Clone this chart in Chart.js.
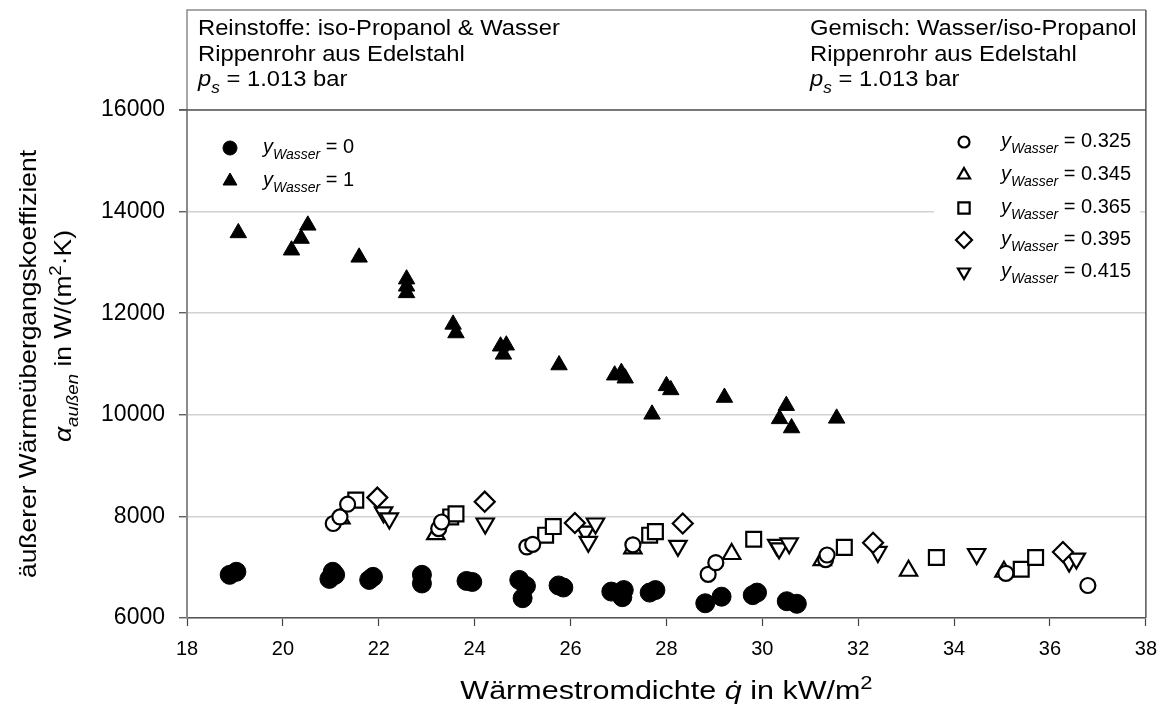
<!DOCTYPE html>
<html>
<head>
<meta charset="utf-8">
<script src="https://cdn.jsdelivr.net/npm/chart.js@4.4.1/dist/chart.umd.min.js"></script>
<style>
  html, body { margin: 0; padding: 0; background: #fff; }
  #wrap { width: 1168px; height: 704px; position: relative; }
</style>
</head>
<body>
<div id="wrap"><canvas id="c" width="1168" height="704"></canvas></div>
<script>
const FONT = '"Liberation Sans", Arial, Helvetica, sans-serif';

// Axis ticks
const xTickValues = [18, 20, 22, 24, 26, 28, 30, 32, 34, 36, 38];
const yTickValues = [6000, 8000, 10000, 12000, 14000, 16000];

// Pure substances: iso-propanol (y = 0) and water (y = 1)
const qW0 = [18.89, 19.03, 20.97, 21.04, 21.09, 21.80, 21.88, 22.90, 22.90, 23.83, 23.95, 24.93, 25.07, 25.00,
             25.75, 25.85, 26.85, 27.11, 27.08, 27.65, 27.77, 28.81, 29.15, 29.80, 29.89, 30.51, 30.72];
const aW0 = [6850, 6910, 6770, 6910, 6850, 6750, 6810, 6850, 6680, 6730, 6710, 6750, 6630, 6390,
             6640, 6600, 6520, 6550, 6410, 6500, 6550, 6290, 6420, 6450, 6500, 6330, 6280];

const qW1 = [19.07, 20.18, 20.38, 20.52, 21.59, 22.58, 22.58, 22.58, 23.55, 23.61, 24.54, 24.66, 24.60,
             25.76, 26.92, 27.06, 27.14, 27.70, 28.00, 28.09, 29.21, 30.36, 30.50, 30.61, 31.55];
const aW1 = [13580, 13240, 13470, 13730, 13100, 12670, 12530, 12400, 11780, 11610, 11350, 11370, 11190,
             10980, 10780, 10830, 10720, 10010, 10570, 10490, 10340, 9920, 10180, 9740, 9930];

// Mixtures water / iso-propanol
const q325 = [21.05, 21.19, 21.35, 23.25, 23.31, 25.09, 25.21, 27.30, 28.87, 29.03, 31.32, 31.35, 35.08, 36.79];
const a325 = [7860, 7990, 8240, 7760, 7890, 7400, 7450, 7440, 6860, 7090, 7150, 7240, 6880, 6640];

const q345 = [21.21, 23.19, 27.30, 29.36, 31.25, 33.05, 35.04];
const a345 = [7960, 7650, 7370, 7260, 7140, 6930, 6910];

const q365 = [21.52, 23.50, 23.61, 25.48, 25.64, 27.65, 27.77, 29.82, 31.71, 33.63, 35.40, 35.70];
const a365 = [8320, 7990, 8050, 7630, 7800, 7630, 7700, 7550, 7390, 7190, 6960, 7190];

const q395 = [21.97, 24.21, 26.09, 28.34, 32.31, 36.27];
const a395 = [8370, 8290, 7870, 7860, 7480, 7300];

const q415 = [22.10, 22.22, 24.22, 26.31, 26.37, 26.52, 28.24, 30.30, 30.35, 30.56, 32.41, 34.47, 36.40, 36.55];
const a415 = [8080, 7960, 7860, 7700, 7500, 7860, 7420, 7440, 7370, 7470, 7300, 7260, 7110, 7170];

const legendLeft = ['0', '1'];
const legendRight = ['0.325', '0.345', '0.365', '0.395', '0.415'];

function pts(xs, ys) { return xs.map((x, i) => ({ x: x, y: ys[i] })); }

const markers = {
  w0:  { style: 'circle',   radius: 9.5, filled: true },
  w1:  { style: 'triangle', radius: 9.5, filled: true },
  m325:{ style: 'circle',   radius: 7.5, filled: false },
  m345:{ style: 'triangle', radius: 10,  filled: false },
  m365:{ style: 'rect',     radius: 10.5, filled: false },
  m395:{ style: 'rectRot',  radius: 10,  filled: false },
  m415:{ style: 'triangle', radius: 10,  filled: false, rotation: 180 }
};

function series(xs, ys, m) {
  return {
    data: pts(xs, ys),
    showLine: false,
    pointStyle: m.style,
    pointRadius: m.radius,
    pointHoverRadius: m.radius,
    pointRotation: m.rotation || 0,
    pointBackgroundColor: m.filled ? '#000' : '#fff',
    pointBorderColor: '#000',
    pointBorderWidth: m.filled ? 1 : 2.2,
    backgroundColor: m.filled ? '#000' : '#fff',
    borderColor: '#000'
  };
}

// rich text: parts = [[text, flags]] flags: i = italic, b = subscript, p = superscript
function partFont(size, flags) {
  const small = flags.includes('b') || flags.includes('p');
  const s = small ? Math.round(size * 0.72) : size;
  return (flags.includes('i') ? 'italic ' : '') + s + 'px ' + FONT;
}
function richWidth(ctx, parts, size) {
  let w = 0;
  for (const [t, f] of parts) { ctx.font = partFont(size, f || ''); w += ctx.measureText(t).width; }
  return w;
}
function drawRich(ctx, parts, x, y, size, align, sx) {
  sx = sx || 1;
  ctx.save();
  ctx.translate(x, y);
  ctx.scale(sx, 1);
  const total = richWidth(ctx, parts, size);
  let cx = align === 'center' ? -total / 2 : (align === 'right' ? -total : 0);
  ctx.textAlign = 'left';
  ctx.textBaseline = 'alphabetic';
  for (const [t, fl] of parts) {
    const f = fl || '';
    ctx.font = partFont(size, f);
    let dy = 0;
    if (f.includes('b')) dy = size * 0.32;
    if (f.includes('p')) dy = -size * 0.42;
    ctx.fillText(t, cx, dy);
    cx += ctx.measureText(t).width;
  }
  ctx.restore();
}

function marker(ctx, m, x, y, r) {
  ctx.save();
  ctx.fillStyle = m.filled ? '#000' : '#fff';
  ctx.strokeStyle = '#000';
  ctx.lineWidth = m.filled ? 1 : 2.2;
  Chart.helpers.drawPoint(ctx, { pointStyle: m.style, radius: r, rotation: m.rotation || 0, borderWidth: ctx.lineWidth }, x, y);
  ctx.restore();
}

const decor = {
  id: 'decor',
  beforeDatasetsDraw(chart) {
    const ctx = chart.ctx;
    // legend background on the right covers the grid
    ctx.save();
    ctx.fillStyle = '#fff';
    ctx.fillRect(934, 118, 206, 172);
    ctx.restore();
  },
  afterDraw(chart) {
    const ctx = chart.ctx;
    const a = chart.chartArea;
    ctx.save();
    // header box and plot frame
    ctx.strokeStyle = '#8a8a8a';
    ctx.lineWidth = 1.5;
    ctx.beginPath();
    ctx.moveTo(a.left, a.top); ctx.lineTo(a.left, 10); ctx.lineTo(a.right, 10);
    ctx.stroke();
    ctx.strokeStyle = '#555';
    ctx.beginPath();
    ctx.moveTo(a.right, 10); ctx.lineTo(a.right, a.bottom);
    ctx.moveTo(a.left - 8, a.top); ctx.lineTo(a.right, a.top);
    ctx.stroke();

    ctx.fillStyle = '#000';
    const hs = 22, hx = 1.08;
    drawRich(ctx, [['Reinstoffe: iso-Propanol & Wasser']], 198, 35, hs, 'left', hx);
    drawRich(ctx, [['Rippenrohr aus Edelstahl']], 198, 61, hs, 'left', hx);
    drawRich(ctx, [['p', 'i'], ['s', 'ib'], [' = 1.013 bar']], 198, 86, hs, 'left', hx);
    drawRich(ctx, [['Gemisch: Wasser/iso-Propanol']], 810, 35, hs, 'left', hx);
    drawRich(ctx, [['Rippenrohr aus Edelstahl']], 810, 61, hs, 'left', hx);
    drawRich(ctx, [['p', 'i'], ['s', 'ib'], [' = 1.013 bar']], 810, 86, hs, 'left', hx);

    // legends
    const ls = 20;
    const leftKeys = [markers.w0, markers.w1];
    const leftY = [148, 181];
    leftKeys.forEach((m, i) => {
      marker(ctx, m, 230, leftY[i], m.style === 'circle' ? 7 : 8);
      ctx.fillStyle = '#000';
      drawRich(ctx, [['y', 'i'], ['Wasser', 'ib'], [' = ' + legendLeft[i]]], 263, leftY[i] + 5, ls, 'left');
    });
    const rightKeys = [markers.m325, markers.m345, markers.m365, markers.m395, markers.m415];
    const rightY = [142, 175, 208, 240, 272];
    rightKeys.forEach((m, i) => {
      const r = { circle: 5.5, triangle: 7, rect: 8, rectRot: 8 }[m.style];
      marker(ctx, m, 964, rightY[i], r);
      ctx.fillStyle = '#000';
      drawRich(ctx, [['y', 'i'], ['Wasser', 'ib'], [' = ' + legendRight[i]]], 1001, rightY[i] + 5, ls, 'left');
    });

    // axis titles
    const ts = 25;
    ctx.fillStyle = '#000';
    drawRich(ctx, [['Wärmestromdichte '], ['q\u0307', 'i'], [' in kW/m'], ['2', 'p']], (a.left + a.right) / 2, 699, ts, 'center', 1.22);

    const ys = 24;
    ctx.save();
    ctx.translate(27 + ys * 0.36, 364);
    ctx.rotate(-Math.PI / 2);
    drawRich(ctx, [['äußerer Wärmeübergangskoeffizient']], 0, 0, ys, 'center', 1.1);
    ctx.restore();
    ctx.save();
    ctx.translate(62 + ys * 0.36, 336);
    ctx.rotate(-Math.PI / 2);
    drawRich(ctx, [['\u03B1', 'i'], ['außen', 'ib'], [' in W/(m'], ['2', 'p'], ['\u00B7K)']], 0, 0, ys, 'center', 1.1);
    ctx.restore();
    ctx.restore();
  }
};

const ds = [
  series(qW0, aW0, markers.w0),
  series(qW1, aW1, markers.w1),
  series(q325, a325, markers.m325),
  series(q345, a345, markers.m345),
  series(q365, a365, markers.m365),
  series(q395, a395, markers.m395),
  series(q415, a415, markers.m415)
];

new Chart(document.getElementById('c'), {
  type: 'scatter',
  data: { datasets: ds },
  options: {
    responsive: false,
    animation: false,
    events: [],
    layout: { padding: { left: 0, top: 110, right: 18, bottom: 0 } },
    plugins: { legend: { display: false }, tooltip: { enabled: false }, title: { display: false } },
    scales: {
      x: {
        type: 'linear', min: 18, max: 38,
        afterBuildTicks: s => { s.ticks = xTickValues.map(v => ({ value: v })); },
        afterFit: s => { s.height = 86; },
        ticks: { color: '#000', font: { family: FONT, size: 20 }, padding: 11, maxRotation: 0 },
        grid: { drawOnChartArea: false, tickLength: 8, tickColor: '#444', tickWidth: 1.2 },
        border: { color: '#555', width: 1.5 }
      },
      y: {
        type: 'linear', min: 6000, max: 16000,
        afterBuildTicks: s => { s.ticks = yTickValues.map(v => ({ value: v })); },
        afterFit: s => { s.width = 187; },
        ticks: { color: '#000', font: { family: FONT, size: 23 }, padding: 14, callback: v => String(v) },
        grid: { color: '#d2d2d2', lineWidth: 1.5, tickLength: 8, tickColor: '#444', tickWidth: 1.2 },
        border: { color: '#8a8a8a', width: 2 }
      }
    }
  },
  plugins: [decor]
});
</script>
</body>
</html>
